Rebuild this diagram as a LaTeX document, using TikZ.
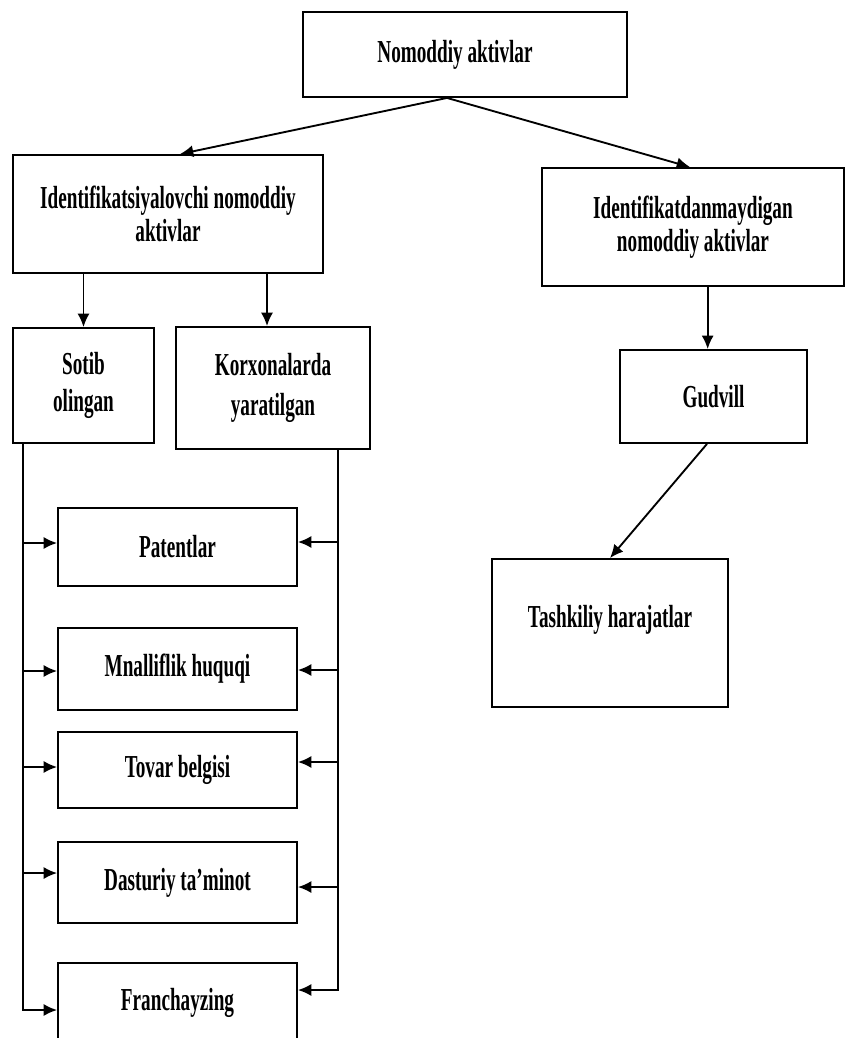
\documentclass[tikz,border=0pt]{standalone}
\usepackage{fontspec}
\setmainfont{Liberation Serif}[FakeStretch=0.6,UprightFont=*,BoldFont=* Bold]
\usetikzlibrary{arrows.meta}
\begin{document}
\begin{tikzpicture}[x=0.75pt,y=-0.75pt,
  box/.style={draw,line width=1.4pt,inner sep=0pt,align=center,
    font=\fontsize{24}{25}\selectfont\bfseries},
  arr/.style={line width=1.4pt,-{Latex[length=10pt,width=9pt]}}]
\useasboundingbox (0,0) rectangle (846,1038);
\clip (0,0) rectangle (846,1038);
\fill[white] (0,0) rectangle (846,1038);

% top level
\node[box,minimum width=243pt,minimum height=63.75pt] (top) at (465,54.5) {Nomoddiy aktivlar\hspace*{15pt}};

% second level
\node[box,minimum width=232.5pt,minimum height=88.5pt] (ident) at (168,214)
  {Identifikatsiyalovchi nomoddiy\\aktivlar};
\node[box,minimum width=226.5pt,minimum height=88.5pt] (identd) at (693,227)
  {Identifikatdanmaydigan\\nomoddiy aktivlar};

% third level
\node[box,minimum width=105.75pt,minimum height=86.25pt] (sotib) at (83.5,385.5)
  {Sotib\\[2.75pt]olingan};
\node[box,minimum width=145.5pt,minimum height=91.5pt] (korx) at (273,388)
  {Korxonalarda\\[5pt]yaratilgan};
\node[box,minimum width=140.25pt,minimum height=69.75pt] (gud) at (713.5,396.5) {Gudvill};
\node[box,minimum width=177pt,minimum height=111pt] (tash) at (610,633)
  {Tashkiliy harajatlar\\[0pt]\mbox{}};

% list of intangible asset kinds
\node[box,minimum width=179.25pt,minimum height=58.5pt] (patent) at (177.5,547) {Patentlar};
\node[box,minimum width=179.25pt,minimum height=61.5pt] (mual) at (177.5,669) {Mnalliflik huquqi};
\node[box,minimum width=179.25pt,minimum height=57pt] (tovar) at (177.5,770) {Tovar belgisi};
\node[box,minimum width=179.25pt,minimum height=60.75pt] (dast) at (177.5,882.5) {Dasturiy ta’minot};
\node[box,minimum width=179.25pt,minimum height=60pt] (franch) at (177.5,1003) {Franchayzing};

% links from the top
\draw[arr] ([xshift=-13.5pt]top.south) -- ([xshift=9pt]ident.north);
\draw[arr] ([xshift=-13.5pt]top.south) -- ([xshift=-2.25pt]identd.north);
\draw[arr] (ident.south -| sotib.north) -- (sotib.north);
\draw[arr] ([xshift=-4.5pt]korx.north |- ident.south) -- ([xshift=-4.5pt]korx.north);
\draw[arr] ([xshift=11pt]identd.south) -- ([xshift=11pt]identd.south |- gud.north);
\draw[arr] ([xshift=-4.9pt]gud.south) -- (tash.north);

% left trunk from "Sotib olingan"
\coordinate (lx) at ([xshift=8.25pt]sotib.south west);
\coordinate (pL) at ([yshift=3pt]patent.west);
\coordinate (mL) at ([yshift=-1.5pt]mual.west);
\coordinate (tL) at ([yshift=2.25pt]tovar.west);
\coordinate (dL) at ([yshift=7.1pt]dast.west);
\coordinate (fL) at ([yshift=-5.25pt]franch.west);
\draw[arr] (lx) |- (fL);
\foreach \p in {pL,mL,tL,dL}
  \draw[arr] (\p -| lx) -- (\p);

% right trunk from "Korxonalarda yaratilgan"
\coordinate (rx) at ([xshift=48.75pt]korx.south);
\coordinate (pR) at ([yshift=3.75pt]patent.east);
\coordinate (mR) at ([yshift=-0.75pt]mual.east);
\coordinate (tR) at ([yshift=6pt]tovar.east);
\coordinate (dR) at ([yshift=-3.4pt]dast.east);
\coordinate (fR) at ([yshift=9.75pt]franch.east);
\draw[arr] (rx) |- (fR);
\foreach \p in {pR,mR,tR,dR}
  \draw[arr] (\p -| rx) -- (\p);
\end{tikzpicture}
\end{document}
